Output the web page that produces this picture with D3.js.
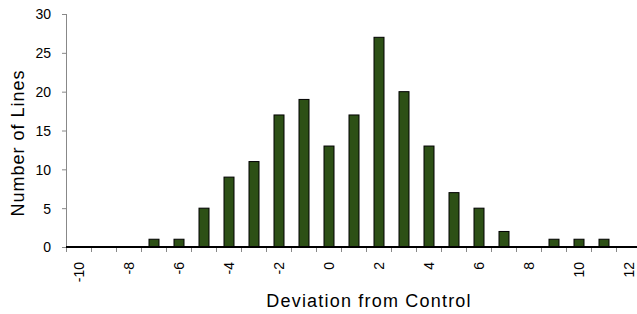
<!DOCTYPE html>
<html>
<head>
<meta charset="utf-8">
<script src="https://cdn.jsdelivr.net/npm/d3@7"></script>
<style>
  body { margin: 0; background: #fff; }
  text { font-family: "Liberation Sans", Arial, sans-serif; fill: #000; }
</style>
</head>
<body>
<script>
// deviation categories and counts
var deviations = [-10,-9,-8,-7,-6,-5,-4,-3,-2,-1,0,1,2,3,4,5,6,7,8,9,10,11,12];
var counts = [0,0,0,1,1,5,9,11,17,19,13,17,27,20,13,7,5,2,0,1,1,1,0];
var yTicks = [0,5,10,15,20,25,30];
var xLabels = [-10,-8,-6,-4,-2,0,2,4,6,8,10,12];

var width = 637;
var height = 314;

var svg = d3.select("body").append("svg")
    .attr("width", width)
    .attr("height", height);

var x = d3.scaleBand()
    .domain(deviations)
    .range([66, 641])
    .paddingInner(0.6)
    .paddingOuter(0.3);

var y = d3.scaleLinear()
    .domain([0, 30])
    .range([247, 14]);

var data = deviations.map(function(d, i){ return {dev: d, n: counts[i]}; });

// bars
svg.selectAll(".bar")
    .data(data)
  .enter().append("rect")
    .attr("class", "bar")
    .attr("x", function(d){ return x(d.dev) + 0.5; })
    .attr("y", function(d){ return y(d.n); })
    .attr("width", x.bandwidth())
    .attr("height", function(d){ return y(0) - y(d.n); })
    .attr("fill", "#2d5016")
    .attr("stroke", "#000")
    .attr("stroke-width", 1)
    .style("display", function(d){ return d.n > 0 ? null : "none"; });

// y axis
var yAxis = svg.append("g")
    .attr("transform", "translate(66,0)")
    .call(d3.axisLeft(y).tickValues(yTicks).tickSize(4).tickPadding(11));
yAxis.select(".domain").attr("stroke", "#888").attr("d", "M0.5," + y(30) + "V" + y(0));
yAxis.selectAll(".tick line").attr("stroke", "#888");
yAxis.selectAll("text").style("font-size", "14px").attr("dy", "0.35em");

// x axis: ticks at band boundaries
var step = x.step();
var xs = d3.range(0, deviations.length + 1);
svg.selectAll(".xtick")
    .data(xs)
  .enter().append("line")
    .attr("class", "xtick")
    .attr("x1", function(i){ return 66 + i * step + 0.5; })
    .attr("x2", function(i){ return 66 + i * step + 0.5; })
    .attr("y1", y(0))
    .attr("y2", y(0) + 5)
    .attr("stroke", "#888");

svg.append("line")
    .attr("x1", 66)
    .attr("x2", 641)
    .attr("y1", y(0))
    .attr("y2", y(0))
    .attr("stroke", "#000")
    .attr("stroke-width", 2);

svg.selectAll(".xlabel")
    .data(xLabels)
  .enter().append("text")
    .attr("class", "xlabel")
    .attr("transform", function(d){
      return "translate(" + (x(d) + x.bandwidth() / 2 + 5) + "," + (y(0) + 15) + ") rotate(-90)";
    })
    .attr("text-anchor", "end")
    .style("font-size", "14px")
    .text(function(d){ return d; });

// titles
svg.append("text")
    .attr("x", 369)
    .attr("y", 307)
    .attr("text-anchor", "middle")
    .style("font-size", "18px")
    .style("letter-spacing", "1.2px")
    .text("Deviation from Control");

svg.append("text")
    .attr("transform", "translate(24,143) rotate(-90)")
    .attr("text-anchor", "middle")
    .style("font-size", "18px")
    .style("letter-spacing", "1px")
    .text("Number of Lines");
</script>
</body>
</html>
